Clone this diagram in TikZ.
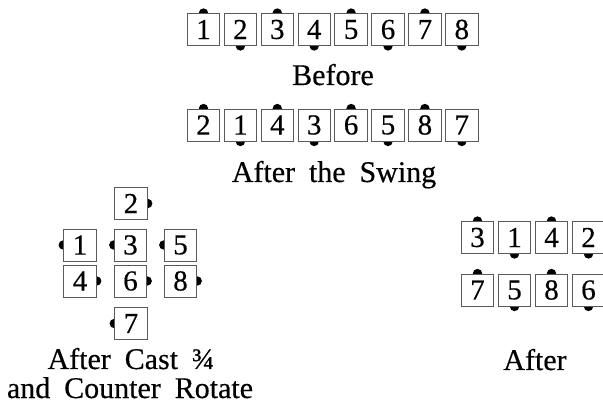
\documentclass[tikz,border=0pt]{standalone}
\usepackage{fontspec}
\setmainfont{Liberation Serif}[FakeBold=0.4,WordSpace=1.85]
\usetikzlibrary{backgrounds}
\tikzset{
  card/.style={draw=black!65, line width=0.9pt, fill=white,
    minimum width=32.5pt, minimum height=32pt, inner sep=0pt,
    font=\fontsize{29}{29}\selectfont},
  lbl/.style={anchor=base, inner sep=0pt, font=\fontsize{30}{30}\selectfont},
  hand/.style={fill=black}
}
\begin{document}
\begin{tikzpicture}[x=1pt,y=-1pt]
\useasboundingbox (0,0) rectangle (603,406);
% Before
\foreach \n/\s [count=\i from 0] in {1/north,2/south,3/north,4/south,5/north,6/south,7/north,8/south}{
  \node[card] (t\n) at ({203.5+36.9*\i},29.5) {\n};
  \begin{pgfonlayer}{background}\fill[hand] (t\n.\s) circle (4.7);\end{pgfonlayer}
}
\node[lbl] (before) at (333,85) {Before};
% After the swing
\foreach \n/\s [count=\i from 0] in {2/north,1/south,4/north,3/south,6/north,5/south,8/north,7/south}{
  \node[card] (s\n) at ({203.5+36.9*\i},125) {\n};
  \begin{pgfonlayer}{background}\fill[hand] (s\n.\s) circle (4.7);\end{pgfonlayer}
}
\node[lbl] (swing) at (334,182) {After the Swing};
% Cast
\foreach \n/\x/\y/\s in {2/131/203.5/east,1/80/245/west,3/130.5/245/west,5/180.5/245/west,4/80/281/east,6/130.5/281/east,8/180.5/281/east,7/131/323.5/west}{
  \node[card] (c\n) at (\x,\y) {\n};
  \begin{pgfonlayer}{background}\fill[hand] (c\n.\s) circle (4.7);\end{pgfonlayer}
}
\node[lbl] (castA) at (131,369) {After Cast ¾};
\node[lbl] (castB) at (130,398) {and Counter Rotate};
% After
\foreach \n/\s [count=\i from 0] in {3/north,1/south,4/north,2/south}{
  \node[card] (a\n) at ({477.5+37*\i},237.5) {\n};
  \begin{pgfonlayer}{background}\fill[hand] (a\n.\s) circle (4.7);\end{pgfonlayer}
}
\foreach \n/\s [count=\i from 0] in {7/north,5/south,8/north,6/south}{
  \node[card] (a\n) at ({477.5+37*\i},290) {\n};
  \begin{pgfonlayer}{background}\fill[hand] (a\n.\s) circle (4.7);\end{pgfonlayer}
}
\node[lbl] (after) at (535,370) {After};
\end{tikzpicture}
\end{document}
